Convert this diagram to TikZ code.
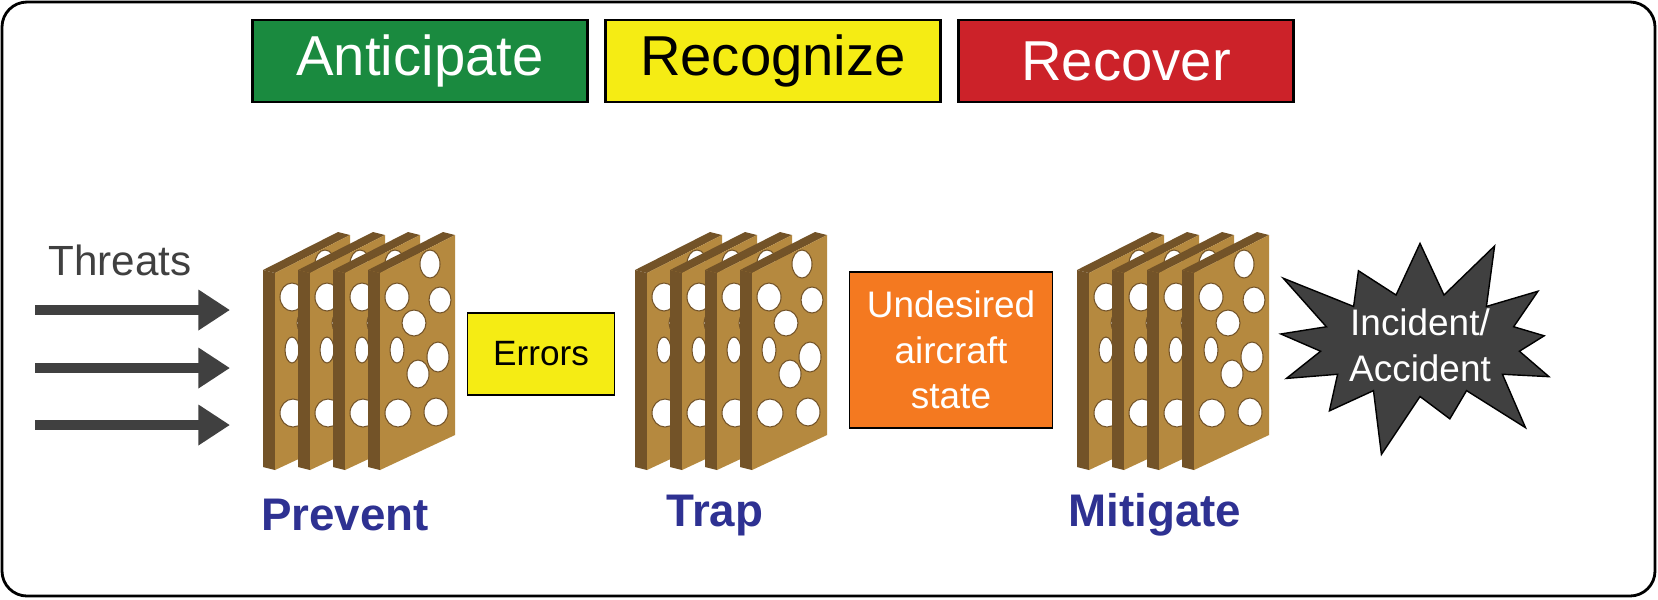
\documentclass[tikz,border=0pt]{standalone}
\usepackage{fontspec}
\setmainfont{Liberation Sans}
\usetikzlibrary{shapes.symbols,arrows.meta}
\definecolor{slabface}{HTML}{B5893F}
\definecolor{slabside}{HTML}{735328}
\definecolor{darkgray}{HTML}{404040}
\definecolor{antgreen}{HTML}{1A8A3F}
\definecolor{recyellow}{HTML}{F5EC14}
\definecolor{recred}{HTML}{CC2229}
\definecolor{undorange}{HTML}{F47920}
\definecolor{labblue}{HTML}{2E3192}
\tikzset{
    header/.style={
           rectangle,
           draw=black, thick,
           minimum width=3.35cm,
           minimum height=0.82cm,
           inner xsep=1pt,
           font=\fontsize{16}{18}\selectfont,
           },
    stage/.style={
           font=\bfseries\fontsize{13}{15}\selectfont,
           text=labblue,
           },
    threat/.style={
           line width=3pt, draw=darkgray,
           -{Triangle[length=9pt,width=11pt]},
           },
    hole/.style={
           fill=white, draw=slabside, line width=0.3pt,
           },
}
% one slab, left back corner at (#1,#2) in pixels
\newcommand{\slab}[2]{%
  \begin{scope}[shift={(#1,#2)}]
    \fill[slabside] (0,0) -- (75,-38) -- (87,-35) -- (12,3) -- cycle;
    \fill[slabside] (0,0) -- (12,3) -- (12,200) -- (0,197) -- cycle;
    \fill[slabface] (12,3) -- (87,-35) -- (87,165) -- (12,200) -- cycle;
    \foreach \hx/\hy/\rx/\ry in {29/27/12/14, 62/-6/10/14, 72/30/11/13,
        46/53/12/13, 29/80/7/13, 70/87/11/15, 50/104/11/14, 30/143/13/14, 68/142/12/14}
      \draw[hole] (\hx,\hy) ellipse[x radius=\rx, y radius=\ry];
  \end{scope}}

\begin{document}
\begin{tikzpicture}[x=0.01cm,y=-0.01cm]
  \useasboundingbox (0,0) rectangle (1658,599);
  \draw[rounded corners=0.25cm, thick, fill=white] (2,2) rectangle (1655,596);

  % header boxes
  \node[header,fill=antgreen,text=white] (ANTICIPATE) at (420,61) {Anticipate};
  \node[header,fill=recyellow] (RECOGNIZE) at (773,61) {Recognize};
  \node[header,fill=recred,text=white] (RECOVER) at (1126,61) {Recover};

  % threats
  \node[text=darkgray,font=\fontsize{12}{14}\selectfont] (THREATS) at (120,260) {Threats};
  \foreach \ty [count=\i] in {310,368,425} {
    \coordinate (T\i) at (35,\ty);
    \coordinate (S\i) at (230,\ty);
    \draw[threat] (T\i) -- (S\i);
  }

  % slab stacks
  \foreach \sx in {263,298,333,368} \slab{\sx}{270};
  \foreach \sx in {635,670,705,740} \slab{\sx}{270};
  \foreach \sx in {1077,1112,1147,1182} \slab{\sx}{270};

  \node[draw=black,fill=recyellow,minimum width=1.47cm,minimum height=0.82cm,
    font=\fontsize{10}{12}\selectfont] (ERRORS) at (541,354) {Errors};
  \node[draw=black,fill=undorange,text=white,minimum width=1.98cm,minimum height=1.56cm,
    text width=1.8cm,align=center,font=\fontsize{10.5}{13}\selectfont] (UNDESIRED) at (951,350)
    {Undesired\\aircraft\\state};

  \node[starburst,starburst points=13,starburst point height=0.7cm,
    fill=darkgray,draw=black,text=white,align=center,minimum width=2.5cm,
    minimum height=2.4cm,inner sep=0pt,font=\fontsize{10.5}{13}\selectfont] (INCIDENT)
    at (1420,345) {Incident/\\Accident};

  % stage labels
  \node[stage] (PREVENT) at (345,515) {Prevent};
  \node[stage] (TRAP) at (715,515) {Trap};
  \node[stage] (MITIGATE) at (1155,515) {Mitigate};
\end{tikzpicture}
\end{document}
